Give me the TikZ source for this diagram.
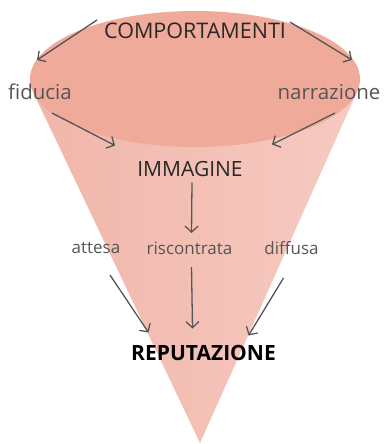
\documentclass[tikz,border=0pt]{standalone}
\usepackage{fontspec}
\setmainfont{Open Sans}
\usetikzlibrary{arrows.meta,calc}
\definecolor{salmon}{RGB}{239,170,154}
\definecolor{conedark}{RGB}{241,182,170}
\definecolor{conelight}{RGB}{246,202,194}
\definecolor{ink}{RGB}{40,40,40}
\definecolor{soft}{RGB}{85,85,85}

\begin{document}
\begin{tikzpicture}[x=1pt,y=-1pt,
  lab/.style={font=\fontsize{17}{17}\selectfont,text=soft,inner sep=1pt},
  sidelab/.style={font=\fontsize{20.5}{20.5}\selectfont,text=soft,inner sep=1pt},
  headlab/.style={font=\fontsize{21.5}{21.5}\selectfont,text=ink,inner sep=1pt},
  arr/.style={draw=soft,line width=1.3pt,-{Straight Barb[length=6pt,width=13pt]}}]
  \useasboundingbox (0,0) rectangle (384,444);
  % cone and top ellipse
  \shade[left color=conedark,right color=conelight] (200,443) -- (33.1,92.1) -- (357.3,91.3) -- cycle;
  \fill[salmon] (195,79) ellipse [x radius=165, y radius=68];
  % labels
  \node[headlab] (comp) at (195,31) {COMPORTAMENTI};
  \node[sidelab] (fid) at (40,92) {fiducia};
  \node[sidelab] (narr) at (329,92) {narrazione};
  \node[headlab,font=\fontsize{21}{21}\selectfont] (imm) at (190,168.5) {IMMAGINE};
  \node[lab] (att) at (96,248) {attesa};
  \node[lab] (ris) at (189.5,248) {riscontrata};
  \node[lab] (dif) at (291.5,248) {diffusa};
  \node[headlab,font=\bfseries\fontsize{21}{21}\selectfont,text=black] (rep) at (203.5,352.5) {REPUTAZIONE};
  % arrows
  \draw[arr] ($(comp)+(-98,-11)$) -- ($(fid)+(-3,-32)$);
  \draw[arr] ($(comp)+(95,-9)$) -- ($(narr)+(23,-32)$);
  \draw[arr] ($(fid)+(12,21)$) -- ($(imm)+(-75,-23)$);
  \draw[arr] ($(narr)+(6,21)$) -- ($(imm)+(82,-24)$);
  \draw[arr] ($(imm)+(2,14)$) -- ($(ris)+(2,-15)$);
  \draw[arr] ($(ris)+(2,19)$) -- ($(rep)+(-11,-24)$);
  \draw[arr] ($(att)+(14,27)$) -- ($(rep)+(-55,-20)$);
  \draw[arr] ($(dif)+(-8,30)$) -- ($(rep)+(45,-17)$);
\end{tikzpicture}
\end{document}
